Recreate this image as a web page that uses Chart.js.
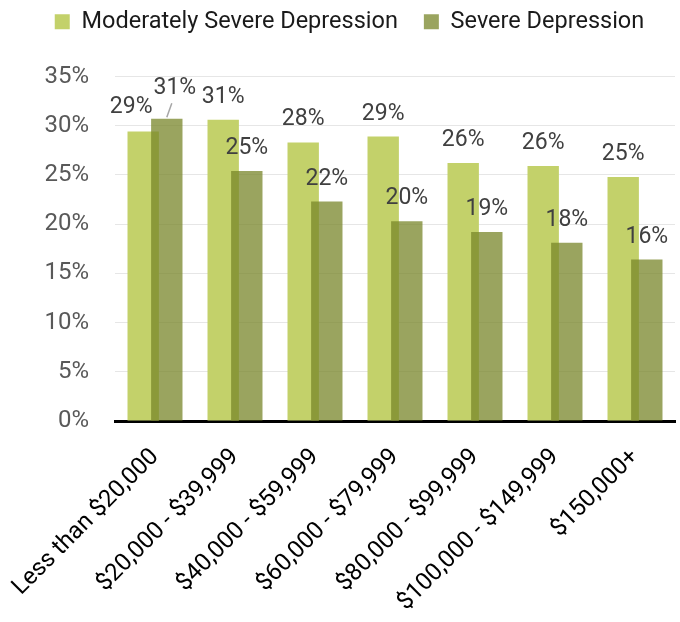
<!DOCTYPE html>
<html>
<head>
<meta charset="utf-8">
<script src="https://cdn.jsdelivr.net/npm/chart.js@4.4.1/dist/chart.umd.min.js"></script>
<style>
  html, body { margin: 0; padding: 0; background: #fff; }
</style>
</head>
<body>
<canvas id="graficoDepresion" width="680" height="622"></canvas>
<script>
// datos
var categorias = ["Less than $20,000", "$20,000 - $39,999", "$40,000 - $59,999", "$60,000 - $79,999", "$80,000 - $99,999", "$100,000 - $149,999", "$150,000+"];
var moderadaSevera = [29.4, 30.6, 28.3, 28.9, 26.2, 25.9, 24.8];
var severa = [30.7, 25.4, 22.3, 20.3, 19.2, 18.1, 16.4];
var nombresSeries = ["Moderately Severe Depression", "Severe Depression"];
var ticksEjeY = [0, 5, 10, 15, 20, 25, 30, 35];

Chart.defaults.font.family = "Roboto";

// mas espacio debajo de la leyenda
var espacioLeyenda = {
  id: "espacioLeyenda",
  beforeInit: function(chart) {
    var fitOriginal = chart.legend.fit;
    chart.legend.fit = function() {
      fitOriginal.bind(chart.legend)();
      this.height += 33;
    };
  }
};

// dibuja los datasets en orden normal (el segundo queda encima)
var ordenDibujo = {
  id: "ordenDibujo",
  beforeDatasetsDraw: function(chart) {
    chart.getSortedVisibleDatasetMetas().forEach(function(meta) {
      meta.controller.draw();
    });
    return false;
  }
};

// etiquetas de valor encima de cada barra
var etiquetasValor = {
  id: "etiquetasValor",
  afterDraw: function(chart) {
    var ctx = chart.ctx;
    ctx.save();
    ctx.font = "23px Roboto";
    ctx.fillStyle = "#404040";
    ctx.textAlign = "center";
    ctx.textBaseline = "alphabetic";
    chart.data.datasets.forEach(function(ds, d) {
      chart.getDatasetMeta(d).data.forEach(function(barra, i) {
        var dx = 0, dy = -17;
        if (i === 0 && d === 0) { dx = -12; dy = -19; }
        if (i === 0 && d === 1) { dx = 8; dy = -25; }
        ctx.fillText(Math.round(ds.data[i]) + "%", barra.x + dx, barra.y + dy);
      });
    });
    // linea guia de la primera etiqueta
    var b = chart.getDatasetMeta(1).data[0];
    ctx.strokeStyle = "#a6a6a6";
    ctx.lineWidth = 1.5;
    ctx.beginPath();
    ctx.moveTo(b.x + 5, b.y - 15.5);
    ctx.lineTo(b.x, b.y - 1.5);
    ctx.stroke();
    ctx.restore();
  }
};

new Chart(document.getElementById("graficoDepresion"), {
  type: "bar",
  data: {
    labels: categorias,
    datasets: [{
      label: nombresSeries[0],
      data: moderadaSevera,
      backgroundColor: "rgb(195,209,106)",
      borderWidth: 0,
      categoryPercentage: 0.59,
      barPercentage: 1.33
    }, {
      label: nombresSeries[1],
      data: severa,
      backgroundColor: "rgba(120,134,42,0.75)",
      borderWidth: 0,
      categoryPercentage: 0.59,
      barPercentage: 1.33
    }]
  },
  options: {
    responsive: false,
    animation: false,
    layout: { padding: { top: -16, left: 24, right: 5, bottom: 0 } },
    plugins: {
      legend: {
        position: "top",
        labels: {
          boxWidth: 15,
          boxHeight: 15,
          padding: 26,
          color: "#1a1a1a",
          font: { size: 23.5 }
        }
      },
      tooltip: { enabled: false }
    },
    scales: {
      x: {
        z: 1,
        grid: { display: false },
        border: { display: true, color: "#000", width: 3 },
        ticks: {
          autoSkip: false,
          minRotation: 45,
          maxRotation: 45,
          padding: 14,
          color: "#000",
          font: { size: 24 }
        },
        afterFit: function(scale) {
          scale.height = 201;
          scale.paddingLeft = 0;
          scale.paddingRight = 0;
        }
      },
      y: {
        min: 0,
        max: 35,
        afterBuildTicks: function(scale) {
          scale.ticks = ticksEjeY.map(function(v) { return { value: v }; });
        },
        grid: { color: "#e6e6e6", lineWidth: 1, drawTicks: false, tickLength: 0 },
        border: { display: false },
        ticks: {
          padding: 26,
          color: "#595959",
          font: { size: 24 },
          callback: function(v) { return v + "%"; }
        },
        afterFit: function(scale) { scale.width = 91; }
      }
    }
  },
  plugins: [espacioLeyenda, ordenDibujo, etiquetasValor]
});
</script>
</body>
</html>
